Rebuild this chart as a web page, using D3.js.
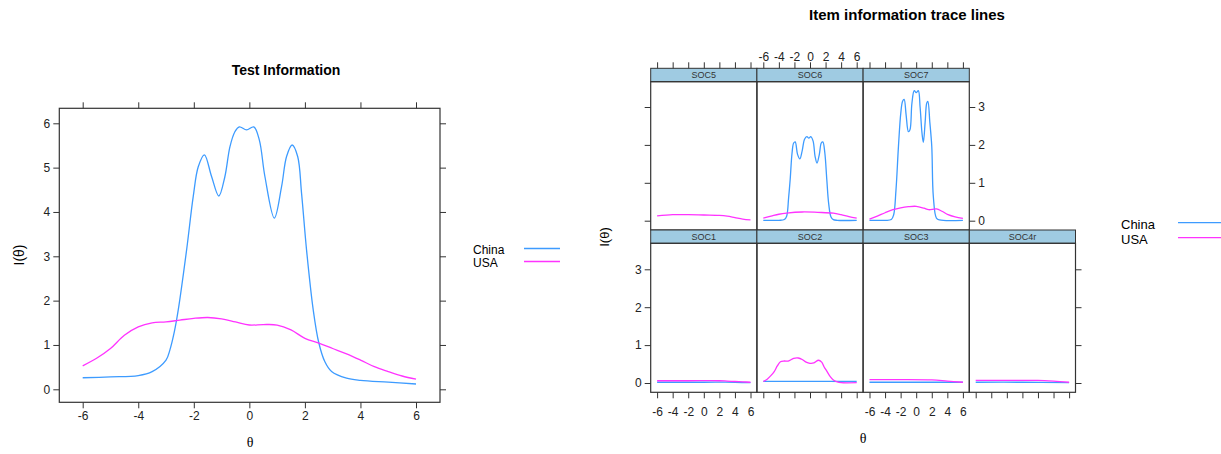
<!DOCTYPE html>
<html>
<head>
<meta charset="utf-8">
<script src="https://cdn.jsdelivr.net/npm/d3@7"></script>
<style>
  body { margin: 0; background: #fff; }
  svg { display: block; font-family: "Liberation Sans", Arial, sans-serif; }
</style>
</head>
<body>
<svg id="chart" width="1221" height="454"></svg>
<script>
// data: [theta, information]
var groups = ['China', 'USA'];
var groupColors = ['#3d9bff', '#ff33ff'];
var thetaTicks = [-6, -4, -2, 0, 2, 4, 6];
var testTicksY = [0, 1, 2, 3, 4, 5, 6];
var itemTicksY = [0, 1, 2, 3];

var testChina = [[-6,0.26],[-5,0.28],[-4,0.31],[-3.5,0.4],[-3,0.66],[-2.86,0.89],[-2.7,1.3],[-2.56,1.79],
  [-2.26,3.14],[-2.02,4.35],[-1.84,5.02],[-1.62,5.29],[-1.36,4.8],[-1.1,4.36],[-0.88,4.8],[-0.7,5.47],
  [-0.52,5.81],[-0.36,5.92],[-0.1,5.85],[0.16,5.92],[0.36,5.62],[0.56,4.8],[0.9,3.86],[1.16,4.57],
  [1.34,5.25],[1.54,5.51],[1.74,5.25],[1.88,4.42],[2.06,3.14],[2.3,1.79],[2.5,1.05],[2.72,0.62],
  [2.96,0.4],[3.5,0.25],[4,0.2],[5,0.16],[6,0.12]];
var testUSA = [[-6,0.53],[-5.5,0.7],[-5,0.92],[-4.5,1.22],[-4,1.41],[-3.5,1.5],[-3,1.52],[-2.5,1.56],[-2,1.6],
  [-1.5,1.62],[-1,1.59],[-0.5,1.52],[0,1.45],[0.5,1.46],[1,1.45],[1.5,1.34],[2,1.15],[2.5,1.04],[3,0.92],
  [3.5,0.8],[4,0.66],[4.5,0.51],[5,0.4],[5.5,0.3],[6,0.23]];

var itemNames = ['SOC5', 'SOC6', 'SOC7', 'SOC1', 'SOC2', 'SOC3', 'SOC4r'];
var itemChina = [
  [],
  [[-6,0.01],[-4,0.01],[-3.3,0.03],[-3,0.12],[-2.75,0.6],[-2.55,1.08],[-2.3,1.8],[-2.1,2.05],[-1.9,2.08],[-1.6,1.75],
   [-1.3,1.63],[-1.0,1.85],[-0.7,2.15],[-0.4,2.22],[-0.15,2.18],[0.1,2.22],[0.4,2.1],[0.65,1.7],[0.9,1.52],
   [1.2,1.75],[1.45,2.05],[1.65,2.08],[1.9,1.8],[2.16,1.08],[2.4,0.45],[2.7,0.1],[3.0,0.03],[3.5,0.01],[6,0.01]],
  [[-6,0.01],[-4,0.01],[-3.2,0.03],[-2.9,0.15],[-2.6,0.8],[-2.28,1.96],[-1.98,2.84],[-1.75,3.15],[-1.55,3.2],
   [-1.3,2.8],[-1.0,2.35],[-0.8,2.4],[-0.55,3.1],[-0.25,3.43],[0,3.38],[0.27,3.43],[0.5,3.0],[0.75,2.3],
   [0.92,2.07],[1.15,2.6],[1.35,3.1],[1.5,3.15],[1.75,2.6],[2.0,1.96],[2.2,0.64],[2.6,0.07],[3.0,0.02],[6,0.01]],
  [[-6,0.02],[0,0.02],[4,0.02],[6,0.01]],
  [[-6,0.045],[0,0.045],[6,0.04]],
  [[-6,0.02],[0,0.02],[6,0.02]],
  [[-6,0.02],[0,0.02],[6,0.01]]
];
var itemUSA = [
  [[-6,0.13],[-4,0.16],[-2,0.16],[0,0.15],[2,0.14],[3,0.12],[4,0.08],[5,0.04],[6,0.02]],
  [[-6,0.07],[-5,0.12],[-4,0.17],[-3,0.2],[-1,0.23],[1,0.22],[3,0.2],[4,0.16],[5,0.11],[6,0.07]],
  [[-6,0.04],[-5,0.12],[-4,0.21],[-3,0.29],[-2,0.34],[-1,0.37],[0,0.38],[1,0.33],[1.6,0.29],[2.6,0.31],
   [3.3,0.25],[4.1,0.16],[5,0.1],[6,0.06]],
  [[-6,0.06],[-2,0.06],[2,0.06],[3,0.05],[4,0.04],[5,0.03],[6,0.02]],
  [[-6,0.04],[-5.5,0.1],[-5,0.2],[-4.6,0.3],[-4.2,0.45],[-3.8,0.56],[-3.3,0.58],[-2.8,0.58],[-2.1,0.65],
   [-1.5,0.66],[-1,0.62],[-0.5,0.55],[0,0.52],[0.5,0.53],[1.1,0.6],[1.5,0.55],[1.8,0.43],[2.2,0.3],
   [2.6,0.17],[3,0.08],[3.5,0.03],[4,0.01],[6,0.01]],
  [[-6,0.09],[-2,0.09],[2,0.08],[4,0.05],[6,0.02]],
  [[-6,0.07],[0,0.07],[2,0.07],[4,0.05],[6,0.02]]
];

var svg = d3.select('#chart');
var axisCol = '#333';

function drawLine(g, pts, x, y, col) {
    if (!pts.length) return;
    g.append('path')
        .datum(pts)
        .attr('fill', 'none')
        .attr('stroke', col)
        .attr('stroke-width', 1.3)
        .attr('d', d3.line()
            .x(function(d) { return x(d[0]); })
            .y(function(d) { return y(d[1]); })
            .curve(d3.curveCatmullRom.alpha(0.5)));
}

function tickAxis(g, axis, tr, labels, fs) {
    var a = g.append('g').attr('transform', tr)
        .call(axis.tickSizeInner(6).tickSizeOuter(0).tickPadding(3)
            .tickFormat(labels ? function(d) { return String(d); } : ''));
    a.select('.domain').remove();
    a.selectAll('line').attr('stroke', axisCol);
    a.selectAll('text').attr('fill', '#222').style('font-size', fs + 'px')
        .style('font-family', '"Liberation Sans", Arial, sans-serif');
    return a;
}

// ---------- left: test information ----------
var L = {left: 59.3, right: 440, top: 108.3, bottom: 402.3};
var tx = d3.scaleLinear().domain([-6, 6]).range([82.7, 416]);
var ty = d3.scaleLinear().domain([0, 6]).range([389.3, 123.3]);
var left = svg.append('g');

left.append('rect')
    .attr('x', L.left).attr('y', L.top)
    .attr('width', L.right - L.left).attr('height', L.bottom - L.top)
    .attr('fill', 'none').attr('stroke', axisCol).attr('stroke-width', 1.2);

tickAxis(left, d3.axisBottom(tx).tickValues(thetaTicks), 'translate(0,' + L.bottom + ')', true, 12);
tickAxis(left, d3.axisTop(tx).tickValues(thetaTicks), 'translate(0,' + L.top + ')', false, 12);
tickAxis(left, d3.axisLeft(ty).tickValues(testTicksY), 'translate(' + L.left + ',0)', true, 12);
tickAxis(left, d3.axisRight(ty).tickValues(testTicksY), 'translate(' + L.right + ',0)', false, 12);

drawLine(left, testChina, tx, ty, groupColors[0]);
drawLine(left, testUSA, tx, ty, groupColors[1]);

left.append('text').attr('x', 286).attr('y', 75).attr('text-anchor', 'middle')
    .style('font-size', '14px').style('font-weight', 'bold').text('Test Information');
left.append('text').attr('x', 250).attr('y', 447).attr('text-anchor', 'middle')
    .style('font-family', '"Liberation Serif", serif').style('font-size', '14px').text('θ');
left.append('text').attr('transform', 'translate(24,255) rotate(-90)').attr('text-anchor', 'middle')
    .style('font-size', '14px').text('I(θ)');

groups.forEach(function(g, i) {
    left.append('text').attr('x', 473).attr('y', 254 + i * 13).style('font-size', '12px').text(g);
    left.append('line').attr('x1', 524).attr('x2', 560)
        .attr('y1', 248.5 + i * 13).attr('y2', 248.5 + i * 13)
        .attr('stroke', groupColors[i]).attr('stroke-width', 1.3);
});

// ---------- right: item information trace lines ----------
var colEdges = [650.7, 756.9, 863.1, 969.3, 1075.5];
var rows = [{strip: 68.3, top: 81.7, bottom: 230}, {strip: 230, top: 243.3, bottom: 392.3}];
var panelOf = [[0, 0], [0, 1], [0, 2], [1, 0], [1, 1], [1, 2], [1, 3]];
var right = svg.append('g');

itemNames.forEach(function(name, k) {
    var r = rows[panelOf[k][0]], c = panelOf[k][1];
    var x0 = colEdges[c], x1 = colEdges[c + 1];
    var ix = d3.scaleLinear().domain([-6, 6]).range([x0 + 6.4, x1 - 6.4]);
    var iy = d3.scaleLinear().domain([0, 3]).range([r.bottom - 9.3, r.bottom - 9.3 - 3 * 37.9]);
    var p = right.append('g');

    p.append('rect').attr('x', x0).attr('y', r.strip).attr('width', x1 - x0).attr('height', r.top - r.strip)
        .attr('fill', '#9fcbe2').attr('stroke', axisCol).attr('stroke-width', 1);
    p.append('text').attr('x', (x0 + x1) / 2).attr('y', r.top - 3.5).attr('text-anchor', 'middle')
        .style('font-size', '9px').attr('fill', '#333').text(name);

    var isTop = panelOf[k][0] === 0;
    if (isTop) {
        tickAxis(p, d3.axisTop(ix).tickValues(thetaTicks), 'translate(0,' + r.strip + ')', name === 'SOC6', 12)
            .selectAll('text').attr('dy', '0.1em');
    } else {
        tickAxis(p, d3.axisBottom(ix).tickValues(thetaTicks), 'translate(0,' + r.bottom + ')',
            name === 'SOC1' || name === 'SOC3', 12).selectAll('text').attr('dy', '1.2em');
    }
    if (c === 0) tickAxis(p, d3.axisLeft(iy).tickValues(itemTicksY), 'translate(' + x0 + ',0)', !isTop, 12);
    if ((isTop && c === 2) || c === 3) {
        tickAxis(p, d3.axisRight(iy).tickValues(itemTicksY), 'translate(' + x1 + ',0)', isTop, 12);
    }

    drawLine(p, itemChina[k], ix, iy, groupColors[0]);
    drawLine(p, itemUSA[k], ix, iy, groupColors[1]);

    p.append('rect').attr('x', x0).attr('y', r.top).attr('width', x1 - x0).attr('height', r.bottom - r.top)
        .attr('fill', 'none').attr('stroke', axisCol).attr('stroke-width', 1.2);
});

right.append('text').attr('x', 907).attr('y', 20).attr('text-anchor', 'middle')
    .style('font-size', '15px').style('font-weight', 'bold').text('Item information trace lines');
right.append('text').attr('x', 863).attr('y', 443).attr('text-anchor', 'middle')
    .style('font-family', '"Liberation Serif", serif').style('font-size', '14px').text('θ');
right.append('text').attr('transform', 'translate(609,237) rotate(-90)').attr('text-anchor', 'middle')
    .style('font-size', '13px').text('I(θ)');

groups.forEach(function(g, i) {
    right.append('text').attr('x', 1121).attr('y', 228.5 + i * 15).style('font-size', '13px').text(g);
    right.append('line').attr('x1', 1178).attr('x2', 1226)
        .attr('y1', 222.7 + i * 15).attr('y2', 222.7 + i * 15)
        .attr('stroke', groupColors[i]).attr('stroke-width', 1.3);
});
</script>
</body>
</html>
